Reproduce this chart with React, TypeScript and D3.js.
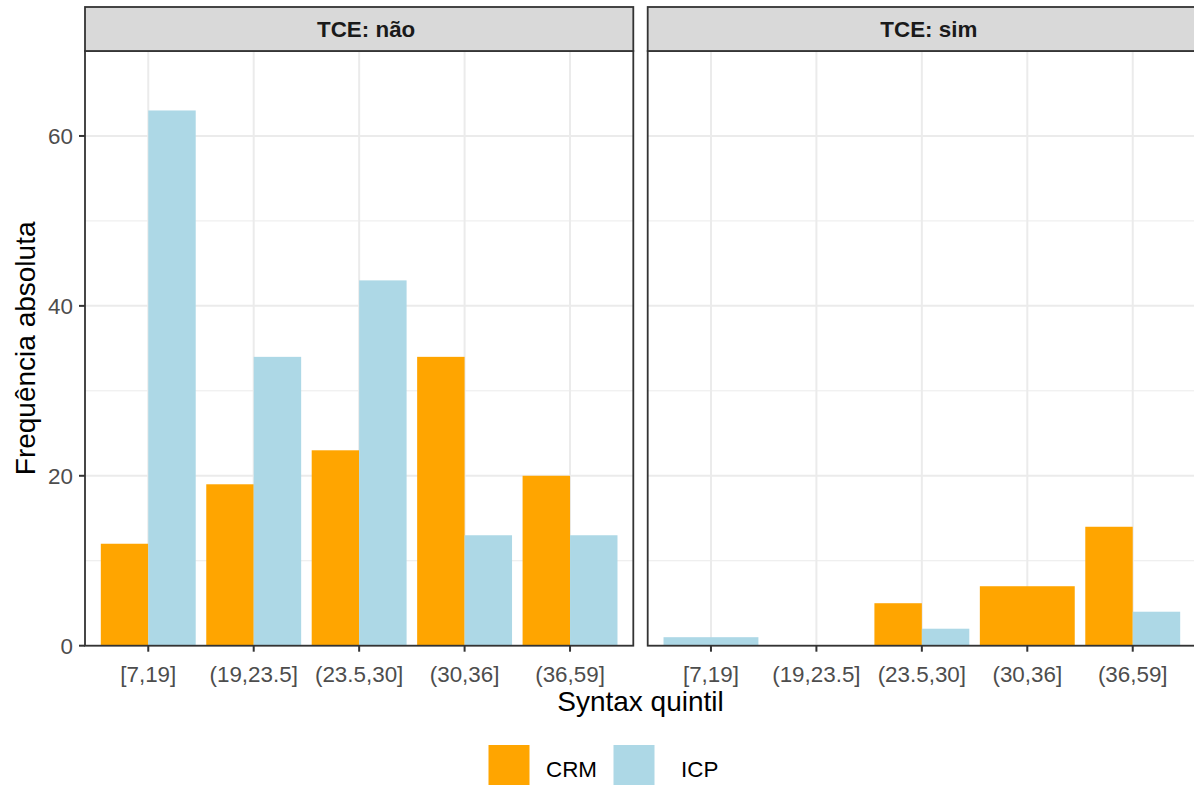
import React from "react";
import * as d3 from "d3";

const categories = ["[7,19]", "(19,23.5]", "(23.5,30]", "(30,36]", "(36,59]"];
const panels = ["TCE: não", "TCE: sim"];
const seriesNames = ["CRM", "ICP"];
const seriesColors = ["#FFA500", "#ADD8E6"];
// values per panel; null = no observation (bar absent)
const crmNao = [12, 19, 23, 34, 20];
const icpNao = [63, 34, 43, 13, 13];
const crmSim: (number | null)[] = [null, null, 5, 7, 14];
const icpSim: (number | null)[] = [1, null, 2, null, 4];
const yTicks = [0, 20, 40, 60];
const yMinor = [10, 30, 50, 70];

const panelData = [
  [crmNao, icpNao],
  [crmSim, icpSim],
];

const W = 1194;
const H = 785;
const panelTop = 51;
const panelBottom = 645.7;
const stripTop = 7;
const panelW = 548.3;
const panelLefts = [85, 647.7];
const font = "'Liberation Sans', Arial, Helvetica, sans-serif";

export default function App() {
  const y = d3.scaleLinear().domain([0, 70]).range([panelBottom, panelTop]);
  return (
    <svg
      width={W}
      height={H}
      style={{ position: "absolute", left: 0, top: 0, background: "#fff" }}
      fontFamily={font}
    >
      <rect x={0} y={0} width={W} height={H} fill="#fff" />
      {panels.map((p, pi) => {
        const left = panelLefts[pi];
        const x = d3
          .scaleLinear()
          .domain([-0.6, categories.length - 1 + 0.6])
          .range([left, left + panelW]);
        const unit = x(1) - x(0);
        const [crm, icp] = panelData[pi];
        return (
          <g key={p}>
            {/* grid */}
            {yMinor.map((t) => (
              <line key={"mi" + t} x1={left} x2={left + panelW} y1={y(t)} y2={y(t)} stroke="#EBEBEB" strokeWidth={1} />
            ))}
            {yTicks.map((t) => (
              <line key={"ma" + t} x1={left} x2={left + panelW} y1={y(t)} y2={y(t)} stroke="#EBEBEB" strokeWidth={2} />
            ))}
            {categories.map((c, i) => (
              <line key={"vx" + c} x1={x(i)} x2={x(i)} y1={panelTop} y2={panelBottom} stroke="#EBEBEB" strokeWidth={2} />
            ))}
            {/* bars */}
            {categories.map((c, i) => {
              const vals = [crm[i], icp[i]];
              const present = vals
                .map((v, si) => ({ v, si }))
                .filter((d) => d.v !== null && d.v !== undefined);
              const n = present.length;
              if (n === 0) return null;
              const totalW = 0.9 * unit;
              const bw = totalW / n;
              const x0 = x(i) - totalW / 2;
              return present.map((d, k) => (
                <rect
                  key={c + d.si}
                  x={x0 + k * bw}
                  y={y(d.v as number)}
                  width={bw}
                  height={y(0) - y(d.v as number)}
                  fill={seriesColors[d.si]}
                />
              ));
            })}
            {/* panel border */}
            <rect x={left} y={panelTop} width={panelW} height={panelBottom - panelTop} fill="none" stroke="#333333" strokeWidth={1.8} />
            {/* strip */}
            <rect x={left} y={stripTop} width={panelW} height={panelTop - stripTop} fill="#D9D9D9" stroke="#333333" strokeWidth={1.8} />
            <text
              x={left + panelW / 2 + 7}
              y={37}
              textAnchor="middle"
              fontSize={22.4}
              fontWeight="bold"
              fill="#1A1A1A"
            >
              {p}
            </text>
            {/* x axis ticks and labels */}
            {categories.map((c, i) => (
              <g key={"xt" + c}>
                <line x1={x(i)} x2={x(i)} y1={panelBottom} y2={panelBottom + 6} stroke="#333333" strokeWidth={2} />
                <text x={x(i)} y={682} textAnchor="middle" fontSize={22.4} fill="#4D4D4D">
                  {c}
                </text>
              </g>
            ))}
          </g>
        );
      })}
      {/* y axis */}
      {yTicks.map((t) => (
        <g key={"yt" + t}>
          <line x1={79} x2={85} y1={y(t)} y2={y(t)} stroke="#333333" strokeWidth={2} />
          <text x={73} y={y(t)} dy="0.36em" textAnchor="end" fontSize={22.4} fill="#4D4D4D">
            {t}
          </text>
        </g>
      ))}
      {/* axis titles */}
      <text x={(85 + 647.7 + panelW) / 2} y={711} textAnchor="middle" fontSize={28} fill="#000">
        Syntax quintil
      </text>
      <text
        transform={`translate(34.5, ${(panelTop + panelBottom) / 2}) rotate(-90)`}
        textAnchor="middle"
        fontSize={28}
        fill="#000"
      >
        Frequência absoluta
      </text>
      {/* legend */}
      {seriesNames.map((s, i) => {
        const kx = [488.5, 613.5][i];
        const tx = [546, 681][i];
        return (
          <g key={s}>
            <rect x={kx} y={745} width={41} height={41} fill={seriesColors[i]} />
            <text x={tx} y={777} fontSize={22.4} fill="#000">
              {s}
            </text>
          </g>
        );
      })}
    </svg>
  );
}
